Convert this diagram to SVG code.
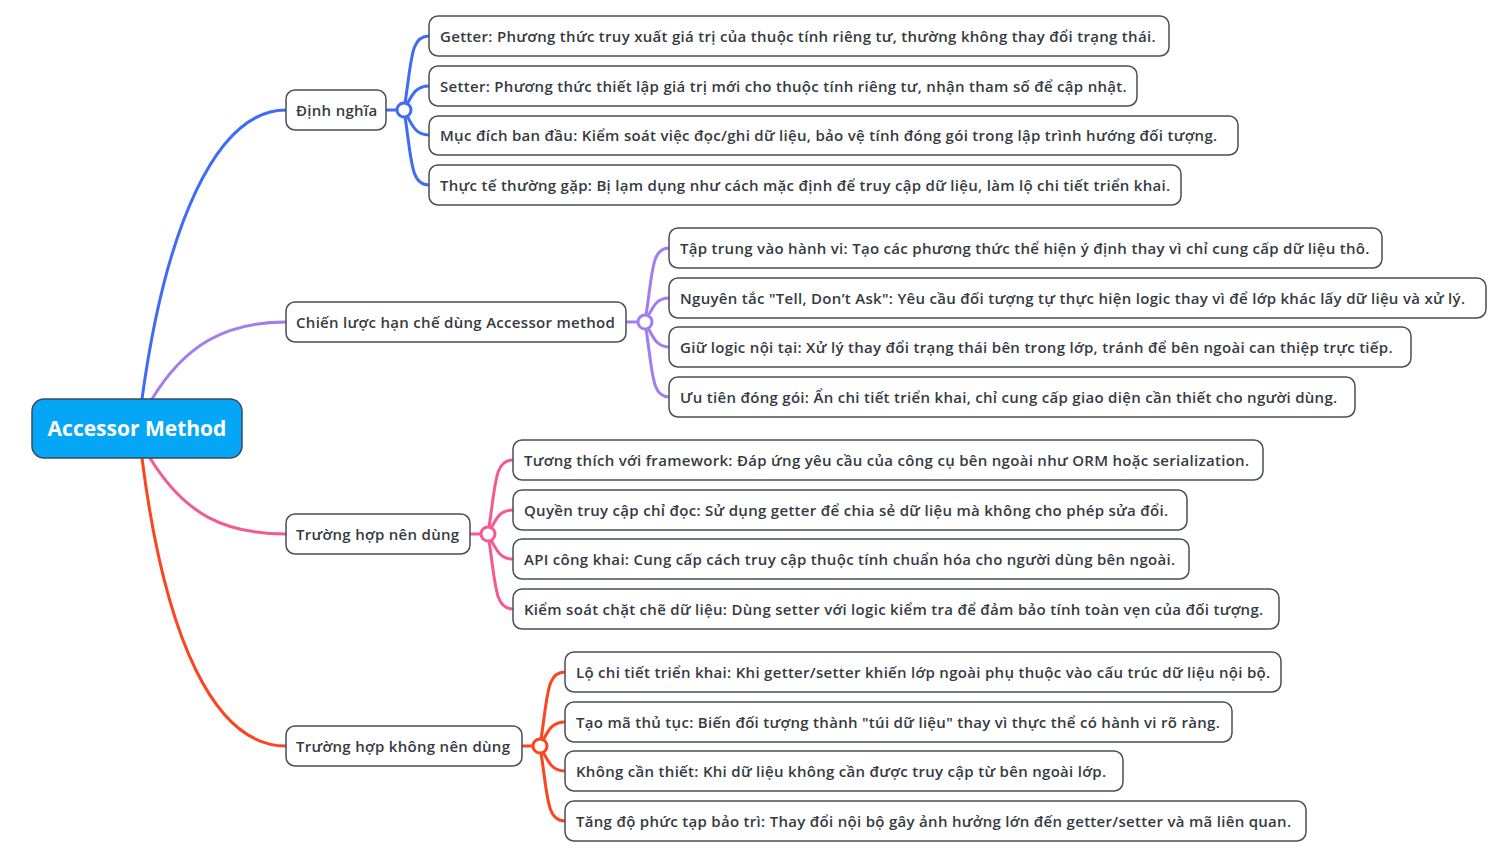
<svg xmlns="http://www.w3.org/2000/svg" width="1495" height="857" viewBox="0 0 1495 857">
<style>
.n{fill:#fff;stroke:#4a4f57;stroke-width:1.5}
.t{font-family:"Open Sans","Noto Sans",sans-serif;font-size:15px;font-weight:600;fill:#353a42;letter-spacing:0.3px}
.c{fill:none;stroke-width:3;stroke-linecap:round}
.dot{fill:#fff;stroke-width:3}
.b{stroke:#3e6cf6}.p{stroke:#a37cf0}.k{stroke:#f6598d}.r{stroke:#fb4420}
</style>
<rect width="1495" height="857" fill="#fff"/>
<g id="connectors">
<path class="c b" d="M142,399 C165,230 215,110 286,110"/>
<path class="c p" d="M152,399 C185,345 225,322 286,322"/>
<path class="c k" d="M150,458 C185,515 225,534 286,534"/>
<path class="c r" d="M142,458 C165,640 215,746 286,746"/>
<path class="c b" d="M386,110 H397"/>
<path class="c b" d="M404,110 C412,60 410,36 429,36"/>
<path class="c b" d="M404,110 C412,95 415,86 429,86"/>
<path class="c b" d="M404,110 C412,125 415,135 429,135"/>
<path class="c b" d="M404,110 C412,160 410,185 429,185"/>
<path class="c p" d="M626,322 H638"/>
<path class="c p" d="M645,322 C653,272 651,248 669,248"/>
<path class="c p" d="M645,322 C653,307 656,298 669,298"/>
<path class="c p" d="M645,322 C653,337 656,347 669,347"/>
<path class="c p" d="M645,322 C653,372 651,397 669,397"/>
<path class="c k" d="M470,534 H481"/>
<path class="c k" d="M488,534 C496,484 494,460 513,460"/>
<path class="c k" d="M488,534 C496,519 499,510 513,510"/>
<path class="c k" d="M488,534 C496,549 499,559 513,559"/>
<path class="c k" d="M488,534 C496,584 494,609 513,609"/>
<path class="c r" d="M522,746 H533"/>
<path class="c r" d="M540,746 C548,696 546,672 565,672"/>
<path class="c r" d="M540,746 C548,731 551,722 565,722"/>
<path class="c r" d="M540,746 C548,761 551,771 565,771"/>
<path class="c r" d="M540,746 C548,796 546,821 565,821"/>
<circle class="dot b" cx="404" cy="110" r="7"/>
<circle class="dot p" cx="645" cy="322" r="7"/>
<circle class="dot k" cx="488" cy="534" r="7"/>
<circle class="dot r" cx="540" cy="746" r="7"/>
</g>
<g id="root">
<rect x="32" y="399" width="210" height="59" rx="12" fill="#05a6f6" stroke="#3b4a5a" stroke-width="1.5"/>
<text x="137" y="436" text-anchor="middle" font-family="'Open Sans','Noto Sans',sans-serif" font-size="21" font-weight="700" fill="#fff">Accessor Method</text>
</g>
<g id="b1"><rect class="n" x="286" y="90" width="100" height="40" rx="9"/><text class="t" x="296" y="116">Định nghĩa</text></g>
<g id="b2"><rect class="n" x="286" y="302" width="340" height="40" rx="9"/><text class="t" x="296" y="328">Chiến lược hạn chế dùng Accessor method</text></g>
<g id="b3"><rect class="n" x="286" y="514" width="184" height="40" rx="9"/><text class="t" x="296" y="540">Trường hợp nên dùng</text></g>
<g id="b4"><rect class="n" x="286" y="726" width="236" height="40" rx="9"/><text class="t" x="296" y="752">Trường hợp không nên dùng</text></g>
<g id="l1"><rect class="n" x="429" y="16" width="740" height="40" rx="9"/><text class="t" x="440" y="42">Getter: Phương thức truy xuất giá trị của thuộc tính riêng tư, thường không thay đổi trạng thái.</text></g>
<g id="l2"><rect class="n" x="429" y="66" width="708" height="40" rx="9"/><text class="t" x="440" y="92">Setter: Phương thức thiết lập giá trị mới cho thuộc tính riêng tư, nhận tham số để cập nhật.</text></g>
<g id="l3"><rect class="n" x="429" y="116" width="809" height="39" rx="9"/><text class="t" x="440" y="141">Mục đích ban đầu: Kiểm soát việc đọc/ghi dữ liệu, bảo vệ tính đóng gói trong lập trình hướng đối tượng.</text></g>
<g id="l4"><rect class="n" x="429" y="165" width="752" height="40" rx="9"/><text class="t" x="440" y="191">Thực tế thường gặp: Bị lạm dụng như cách mặc định để truy cập dữ liệu, làm lộ chi tiết triển khai.</text></g>
<g id="l5"><rect class="n" x="669" y="228" width="713" height="40" rx="9"/><text class="t" x="680" y="254">Tập trung vào hành vi: Tạo các phương thức thể hiện ý định thay vì chỉ cung cấp dữ liệu thô.</text></g>
<g id="l6"><rect class="n" x="669" y="278" width="817" height="40" rx="9"/><text class="t" x="680" y="304">Nguyên tắc "Tell, Don’t Ask": Yêu cầu đối tượng tự thực hiện logic thay vì để lớp khác lấy dữ liệu và xử lý.</text></g>
<g id="l7"><rect class="n" x="669" y="327" width="742" height="40" rx="9"/><text class="t" x="680" y="353">Giữ logic nội tại: Xử lý thay đổi trạng thái bên trong lớp, tránh để bên ngoài can thiệp trực tiếp.</text></g>
<g id="l8"><rect class="n" x="669" y="377" width="686" height="40" rx="9"/><text class="t" x="680" y="403">Ưu tiên đóng gói: Ẩn chi tiết triển khai, chỉ cung cấp giao diện cần thiết cho người dùng.</text></g>
<g id="l9"><rect class="n" x="513" y="440" width="750" height="40" rx="9"/><text class="t" x="524" y="466">Tương thích với framework: Đáp ứng yêu cầu của công cụ bên ngoài như ORM hoặc serialization.</text></g>
<g id="l10"><rect class="n" x="513" y="490" width="674" height="40" rx="9"/><text class="t" x="524" y="516">Quyền truy cập chỉ đọc: Sử dụng getter để chia sẻ dữ liệu mà không cho phép sửa đổi.</text></g>
<g id="l11"><rect class="n" x="513" y="539" width="676" height="40" rx="9"/><text class="t" x="524" y="565">API công khai: Cung cấp cách truy cập thuộc tính chuẩn hóa cho người dùng bên ngoài.</text></g>
<g id="l12"><rect class="n" x="513" y="589" width="766" height="40" rx="9"/><text class="t" x="524" y="615">Kiểm soát chặt chẽ dữ liệu: Dùng setter với logic kiểm tra để đảm bảo tính toàn vẹn của đối tượng.</text></g>
<g id="l13"><rect class="n" x="565" y="652" width="716" height="40" rx="9"/><text class="t" x="576" y="678">Lộ chi tiết triển khai: Khi getter/setter khiến lớp ngoài phụ thuộc vào cấu trúc dữ liệu nội bộ.</text></g>
<g id="l14"><rect class="n" x="565" y="702" width="667" height="40" rx="9"/><text class="t" x="576" y="728">Tạo mã thủ tục: Biến đối tượng thành "túi dữ liệu" thay vì thực thể có hành vi rõ ràng.</text></g>
<g id="l15"><rect class="n" x="565" y="751" width="558" height="40" rx="9"/><text class="t" x="576" y="777">Không cần thiết: Khi dữ liệu không cần được truy cập từ bên ngoài lớp.</text></g>
<g id="l16"><rect class="n" x="565" y="801" width="741" height="40" rx="9"/><text class="t" x="576" y="827">Tăng độ phức tạp bảo trì: Thay đổi nội bộ gây ảnh hưởng lớn đến getter/setter và mã liên quan.</text></g>
</svg>
